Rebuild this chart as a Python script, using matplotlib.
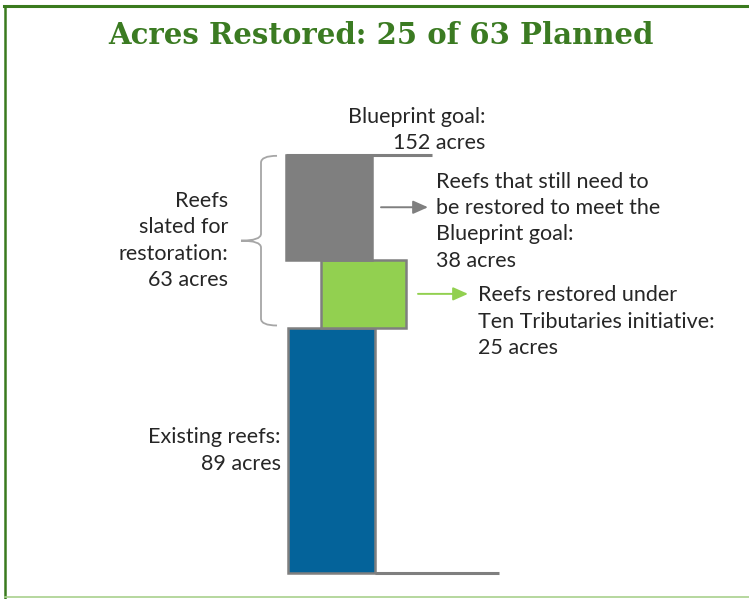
import matplotlib.pyplot as plt
from matplotlib.path import Path
from matplotlib.patches import PathPatch
from matplotlib.lines import Line2D

# Reef acreage (acres)
existing = 89
restored = 25
remaining = 38
goal = existing + restored + remaining   # 152
planned = restored + remaining            # 63

title = "Acres Restored: %d of %d Planned" % (restored, planned)
goal_label = "Blueprint goal:\n%d acres" % goal
remaining_label = "Reefs that still need to\nbe restored to meet the\nBlueprint goal:\n%d acres" % remaining
restored_label = "Reefs restored under\nTen Tributaries initiative:\n%d acres" % restored
planned_label = "Reefs\nslated for\nrestoration:\n%d acres" % planned
existing_label = "Existing reefs:\n%d acres" % existing

# colours
blue = '#04639a'
green = '#92d050'
grey = '#7f7f7f'
edge = '#7f7f7f'
brace_col = '#a6a6a6'
title_green = '#3b7b22'
frame_green = '#3a7a1e'
text_col = '#262626'

W, H = 749, 599
base_px, top_px = 573, 155            # where 0 and the goal sit (pixels from top)
scale = (base_px - top_px) / goal     # pixels per acre

fig = plt.figure(figsize=(W / 100, H / 100), dpi=100)
ax = fig.add_axes([0, 0, 1, 1])
ax.set_xlim(0, W)
ax.set_ylim(-(H - base_px) / scale, base_px / scale)
ax.axis('off')

lw_bar = 1.8
ax.bar(331.5, existing, width=87, bottom=0, color=blue, edgecolor=edge, linewidth=lw_bar)
ax.bar(363.5, restored, width=85, bottom=existing, color=green, edgecolor=edge, linewidth=lw_bar)
ax.bar(329, remaining, width=86, bottom=existing + restored, color=grey, edgecolor=edge, linewidth=lw_bar)

# goal and baseline rules
ax.plot([286, 432], [goal, goal], color=edge, lw=2.2, solid_capstyle='butt')
ax.plot([375, 499], [0, 0], color=edge, lw=2.2, solid_capstyle='butt')

# brace around the planned restoration
y_top = goal - 0.3
y_bot = existing + 1.0
y_mid = (y_top + y_bot) / 2
x_line, x_end, x_tip = 261, 277, 241
r = 2.5
verts = [(x_end, y_top), (x_line, y_top), (x_line, y_top - r),
         (x_line, y_mid + r), (x_line, y_mid), (x_tip, y_mid),
         (x_line, y_mid), (x_line, y_mid - r),
         (x_line, y_bot + r), (x_line, y_bot), (x_end, y_bot)]
codes = [Path.MOVETO, Path.CURVE3, Path.CURVE3,
         Path.LINETO, Path.CURVE3, Path.CURVE3,
         Path.CURVE3, Path.CURVE3,
         Path.LINETO, Path.CURVE3, Path.CURVE3]
ax.add_patch(PathPatch(Path(verts, codes), facecolor='none', edgecolor=brace_col, lw=1.3))

# arrows
y_grey = existing + restored + remaining / 2
y_green = existing + restored / 2
ax.annotate('', xy=(428, y_grey), xytext=(381, y_grey),
            arrowprops=dict(arrowstyle='-|>,head_length=0.9,head_width=0.4',
                            color=grey, lw=1.4, shrinkA=0, shrinkB=0))
ax.annotate('', xy=(468, y_green), xytext=(418, y_green),
            arrowprops=dict(arrowstyle='-|>,head_length=0.9,head_width=0.4',
                            color=green, lw=1.4, shrinkA=0, shrinkB=0))

fs = 15.5
font = 'Lato'
ls = 1.4
line = 28 / scale   # one text line in acres

ax.text(485, goal + 0.6, goal_label, ha='right', va='bottom', ma='right',
        fontsize=fs, family=font, color=text_col, linespacing=ls)
ax.text(436, y_grey - line / 2, remaining_label, ha='left', va='center',
        fontsize=fs, family=font, color=text_col, linespacing=ls)
ax.text(478, y_green - line, restored_label, ha='left', va='center',
        fontsize=fs, family=font, color=text_col, linespacing=ls)
ax.text(228, y_mid, planned_label, ha='right', va='center', ma='right',
        fontsize=fs, family=font, color=text_col, linespacing=ls)
ax.text(281, existing / 2, existing_label, ha='right', va='center', ma='right',
        fontsize=fs, family=font, color=text_col, linespacing=ls)

fig.text(381 / W, 1 - 35 / H, title, ha='center', va='center', fontsize=21,
         fontweight='bold', family='DejaVu Serif', color=title_green)

# frame
fig.add_artist(Line2D([5 / W, 5 / W], [0, 1 - 6 / H], color=frame_green, lw=1.8))
fig.add_artist(Line2D([4 / W, 1], [1 - 6 / H, 1 - 6 / H], color=frame_green, lw=2.2))
fig.add_artist(Line2D([5 / W, 1], [1 - 597 / H, 1 - 597 / H], color='#a9d18e', lw=1.2))

fig.savefig('out.png', dpi=100)
